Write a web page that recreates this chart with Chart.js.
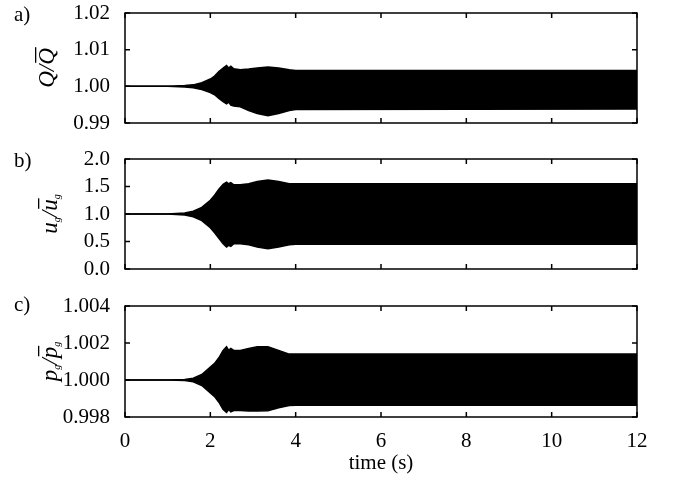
<!DOCTYPE html>
<html>
<head>
<meta charset="utf-8">
<script src="https://cdn.jsdelivr.net/npm/chart.js@4/dist/chart.umd.min.js"></script>
<style>
  body { margin: 0; background: #fff; }
  #wrap { position: relative; width: 675px; height: 480px; }
  #wrap canvas { position: absolute; left: 0; }
</style>
</head>
<body>
<div id="wrap">
  <canvas id="chartA" width="675" height="140" style="top:0px"></canvas>
  <canvas id="chartB" width="675" height="140" style="top:140px"></canvas>
  <canvas id="chartC" width="675" height="200" style="top:280px"></canvas>
</div>
<script>
// envelope of the oscillation
const time = [0, 1.0, 1.4, 1.6, 1.8, 2.0, 2.1, 2.2, 2.3, 2.38, 2.43, 2.48, 2.55, 2.7, 2.9, 3.1, 3.35, 3.6, 3.85, 4.0, 12];

const qUpper = [1.0, 1.0, 1.0002, 1.0004, 1.0010, 1.0020, 1.0028, 1.0040, 1.0050, 1.0057, 1.0050, 1.0055, 1.0048, 1.0045, 1.0047, 1.0050, 1.0053, 1.0050, 1.0045, 1.0043, 1.0043];
const qLower = [1.0, 1.0, 0.9998, 0.9996, 0.9991, 0.9983, 0.9977, 0.9967, 0.9958, 0.9952, 0.9957, 0.9949, 0.9946, 0.9944, 0.9934, 0.9926, 0.9920, 0.9926, 0.9934, 0.9937, 0.9938];

const uUpper = [1.0, 1.0, 1.02, 1.05, 1.12, 1.25, 1.34, 1.45, 1.54, 1.58, 1.55, 1.57, 1.53, 1.53, 1.55, 1.59, 1.62, 1.59, 1.55, 1.55, 1.55];
const uLower = [1.0, 1.0, 0.98, 0.95, 0.88, 0.75, 0.66, 0.56, 0.46, 0.40, 0.43, 0.41, 0.46, 0.46, 0.44, 0.40, 0.37, 0.40, 0.44, 0.45, 0.45];

const pUpper = [1.0, 1.0, 1.00003, 1.0001, 1.0003, 1.0007, 1.0009, 1.0012, 1.0016, 1.0018, 1.0016, 1.0017, 1.0016, 1.0016, 1.0017, 1.0018, 1.0018, 1.0016, 1.0014, 1.0014, 1.0014];
const pLower = [1.0, 1.0, 0.99997, 0.9999, 0.9997, 0.9993, 0.9991, 0.9988, 0.9984, 0.99825, 0.9984, 0.99828, 0.99835, 0.99835, 0.99833, 0.99832, 0.99834, 0.9985, 0.99862, 0.99864, 0.99864];

const xTicks = [0, 2, 4, 6, 8, 10, 12];
const qTicks = [0.99, 1.00, 1.01, 1.02];
const uTicks = [0.0, 0.5, 1.0, 1.5, 2.0];
const pTicks = [0.998, 1.000, 1.002, 1.004];

const serif = '"Liberation Serif", "Times New Roman", serif';

function toPoints(ys) {
    return time.map((t, i) => ({ x: t, y: ys[i] }));
}

// draws a rotated label made of parts (sub = subscript, bar = overline)
function drawYLabel(ctx, parts, x, cy, size) {
    const big = 'italic ' + size + 'px ' + serif;
    const small = 'italic ' + Math.round(size * 0.45) + 'px ' + serif;
    let w = 0;
    parts.forEach(p => {
        ctx.font = p.sub ? small : big;
        p.w = ctx.measureText(p.t).width;
        w += p.w;
    });
    ctx.save();
    ctx.translate(x, cy);
    ctx.rotate(-Math.PI / 2);
    ctx.fillStyle = '#000';
    ctx.textBaseline = 'alphabetic';
    let px = -w / 2;
    parts.forEach(p => {
        ctx.font = p.sub ? small : big;
        ctx.fillText(p.t, px, p.sub ? 3 : 0);
        if (p.bar) ctx.fillRect(px + 2, -p.bar, p.w - 1, 1.3);
        px += p.w;
    });
    ctx.restore();
}

const framePlugin = {
    id: 'frame',
    afterDatasetsDraw(chart) {
        const o = chart.options.plugins.frame;
        const { ctx, chartArea: a, scales } = chart;
        ctx.save();
        ctx.strokeStyle = '#000';
        ctx.lineWidth = 1.5;
        ctx.beginPath();
        xTicks.forEach(v => {
            const px = scales.x.getPixelForValue(v);
            ctx.moveTo(px, a.bottom); ctx.lineTo(px, a.bottom - 5);
            ctx.moveTo(px, a.top); ctx.lineTo(px, a.top + 5);
        });
        o.yTicks.forEach(v => {
            const py = scales.y.getPixelForValue(v);
            ctx.moveTo(a.left, py); ctx.lineTo(a.left + 5, py);
            ctx.moveTo(a.right, py); ctx.lineTo(a.right - 5, py);
        });
        ctx.stroke();
        ctx.strokeRect(a.left, a.top, a.right - a.left, a.bottom - a.top);
        ctx.fillStyle = '#000';
        ctx.font = '21px ' + serif;
        ctx.textBaseline = 'alphabetic';
        ctx.fillText(o.letter, 14, o.letterY);
        ctx.restore();
        drawYLabel(ctx, o.label, o.labelX, (a.top + a.bottom) / 2, o.labelSize);
    }
};

function makePanel(id, upper, lower, yTicks, yFmt, opts) {
    return new Chart(document.getElementById(id), {
        type: 'line',
        data: {
            datasets: [
                {
                    data: toPoints(upper),
                    borderColor: '#000',
                    backgroundColor: '#000',
                    borderWidth: 1.5,
                    pointRadius: 0,
                    fill: '+1'
                },
                {
                    data: toPoints(lower),
                    borderColor: '#000',
                    borderWidth: 1.5,
                    pointRadius: 0,
                    fill: false
                }
            ]
        },
        options: {
            responsive: false,
            animation: false,
            devicePixelRatio: 1,
            layout: { padding: { left: 0, right: 38, top: opts.top, bottom: 0 } },
            plugins: {
                legend: { display: false },
                tooltip: { enabled: false },
                frame: opts.frame
            },
            scales: {
                x: {
                    type: 'linear',
                    min: 0,
                    max: 12,
                    grid: { display: false },
                    border: { display: false },
                    afterBuildTicks: s => { s.ticks = xTicks.map(v => ({ value: v })); },
                    afterFit: s => { s.height = opts.bottom; },
                    ticks: {
                        display: opts.showX,
                        autoSkip: false,
                        maxRotation: 0,
                        padding: 4,
                        color: '#000',
                        font: { family: serif, size: 21 }
                    },
                    title: {
                        display: opts.showX,
                        text: 'time (s)',
                        color: '#000',
                        font: { family: serif, size: 21 },
                        padding: { top: 0, bottom: 4 }
                    }
                },
                y: {
                    min: yTicks[0],
                    max: yTicks[yTicks.length - 1],
                    grid: { display: false },
                    border: { display: false },
                    afterBuildTicks: s => { s.ticks = yTicks.map(v => ({ value: v })); },
                    afterFit: s => { s.width = 125; s.paddingTop = 0; s.paddingBottom = 0; },
                    ticks: {
                        autoSkip: false,
                        padding: 7,
                        color: '#000',
                        font: { family: serif, size: 21 },
                        callback: v => v.toFixed(yFmt)
                    }
                }
            }
        },
        plugins: [framePlugin]
    });
}

makePanel('chartA', qUpper, qLower, qTicks, 2, {
    top: 13, bottom: 17, showX: false,
    frame: {
        yTicks: qTicks, letter: 'a)', letterY: 21, labelX: 54, labelSize: 23,
        label: [{ t: 'Q' }, { t: '/' }, { t: 'Q', bar: 19 }]
    }
});

makePanel('chartB', uUpper, uLower, uTicks, 1, {
    top: 19, bottom: 11, showX: false,
    frame: {
        yTicks: uTicks, letter: 'b)', letterY: 27, labelX: 57, labelSize: 23,
        label: [{ t: 'u' }, { t: 'g', sub: true }, { t: '/' }, { t: 'u', bar: 19 }, { t: 'g', sub: true }]
    }
});

makePanel('chartC', pUpper, pLower, pTicks, 3, {
    top: 26, bottom: 63, showX: true,
    frame: {
        yTicks: pTicks, letter: 'c)', letterY: 31, labelX: 57, labelSize: 23,
        label: [{ t: 'p' }, { t: 'g', sub: true }, { t: '/' }, { t: 'p', bar: 19 }, { t: 'g', sub: true }]
    }
});
</script>
</body>
</html>
